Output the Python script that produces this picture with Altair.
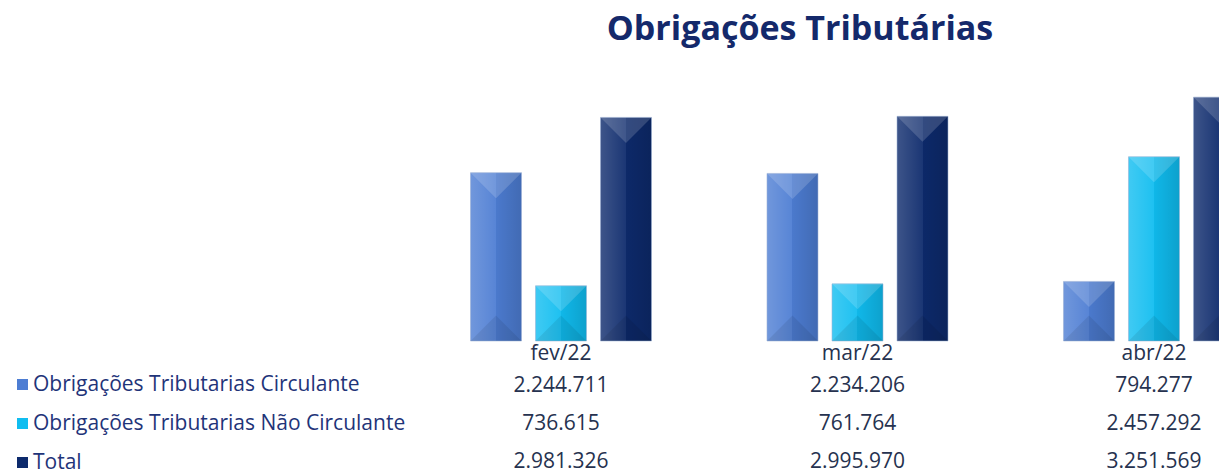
import altair as alt
import pandas as pd

# ---- data ----
months = ["fev/22", "mar/22", "abr/22"]
series = [
    "Obrigações Tributarias Circulante",
    "Obrigações Tributarias Não Circulante",
    "Total",
]
circulante = [2244711, 2234206, 794277]
nao_circulante = [736615, 761764, 2457292]
total = [2981326, 2995970, 3251569]

colors = ["#4d7dd3", "#10bdf0", "#0d2a6c"]

rows = []
for s, vals in zip(series, [circulante, nao_circulante, total]):
    for m, v in zip(months, vals):
        rows.append({"month": m, "series": s, "value": v})
df = pd.DataFrame(rows)

FONT = "Open Sans"
W, H = 1211, 416
PAD_TOP = 50
BAR_W = 51

xscale = alt.Scale(domain=months, range=[455.5, 1243.5], paddingInner=0.3423, paddingOuter=0)
offscale = alt.Scale(domain=series, paddingInner=0.2154, paddingOuter=0.1077)
yscale = alt.Scale(domain=[0, 3773333], range=[283, 0], nice=False, zero=True)
rowscale = alt.Scale(type="point", domain=series, range=[328, 404], padding=0)

xaxis = alt.Axis(
    title=None, orient="bottom", offset=-133, domain=False, ticks=False, tickSize=0,
    labelPadding=1, labelFont=FONT, labelFontSize=21, labelColor="#26324f",
    labelAngle=0, grid=False,
)

X = alt.X("month:N", sort=months, scale=xscale, axis=xaxis)
XO = alt.XOffset("series:N", sort=series, scale=offscale)
Y = alt.Y("value:Q", scale=yscale, axis=None)

legend = alt.Legend(
    title=None, orient="none", legendX=4, legendY=316, direction="vertical",
    symbolType="square", symbolSize=121, symbolStrokeWidth=0, symbolOpacity=1,
    labelFont=FONT, labelFontSize=21, labelColor="#1f3479", labelOffset=0,
    rowPadding=17, padding=0, labelLimit=500,
)

base = alt.Chart(df)

bars = base.mark_bar(clip=True).encode(
    x=X, xOffset=XO, y=Y,
    color=alt.Color("series:N", sort=series, scale=alt.Scale(domain=series, range=colors), legend=legend),
)

# bevel shading: left face lighter, right face darker
shade = base.mark_bar(
    clip=True,
    fill=alt.Gradient(
        gradient="linear", x1=0, x2=1, y1=0, y2=0,
        stops=[
            alt.GradientStop(offset=0, color="rgba(255,255,255,0.20)"),
            alt.GradientStop(offset=0.5, color="rgba(255,255,255,0.06)"),
            alt.GradientStop(offset=0.5, color="rgba(0,0,0,0.03)"),
            alt.GradientStop(offset=1, color="rgba(0,0,0,0.15)"),
        ],
    ),
    stroke="#9fb3d6", strokeWidth=0.8, strokeOpacity=0.7,
).encode(x=X, xOffset=XO, y=Y)

# bevel top face (light triangle hanging from the bar top)
top_face = base.mark_point(
    clip=True, shape="M-1,0L1,0L0,1Z", filled=True, size=BAR_W * BAR_W,
    color="#ffffff", opacity=0.16, strokeWidth=0,
).encode(x=X, xOffset=XO, y=Y)

# bevel bottom face (dark triangle rising from the baseline)
bottom_face = base.transform_calculate(zero="0").mark_point(
    clip=True, shape="M-1,0L1,0L0,-1Z", filled=True, size=BAR_W * BAR_W,
    color="#000000", opacity=0.08, strokeWidth=0,
).encode(x=X, xOffset=XO, y=alt.Y("zero:Q", scale=yscale, axis=None))

values = base.transform_calculate(
    label="join(split(format(datum.value, ','), ','), '.')"
).mark_text(font=FONT, fontSize=21, color="#26324f", baseline="middle", align="center").encode(
    x=X,
    y=alt.Y("series:N", scale=rowscale, axis=None),
    text="label:N",
)

chart = (
    alt.layer(bars, shade, top_face, bottom_face, values)
    .resolve_scale(y="independent")
    .properties(
        width=W, height=H,
        autosize=alt.AutoSizeParams(type="none"),
        padding={"left": 0, "top": PAD_TOP, "right": 0, "bottom": 0},
        title=alt.TitleParams(
            "Obrigações Tributárias", font=FONT, fontSize=34, fontWeight="bold",
            color="#14296b", anchor="middle", dx=186.5, frame="group",
            offset=-16, baseline="alphabetic",
        ),
    )
    .configure_view(stroke=None)
)

chart.save("out.html", embed_options={"renderer": "svg", "actions": False})
